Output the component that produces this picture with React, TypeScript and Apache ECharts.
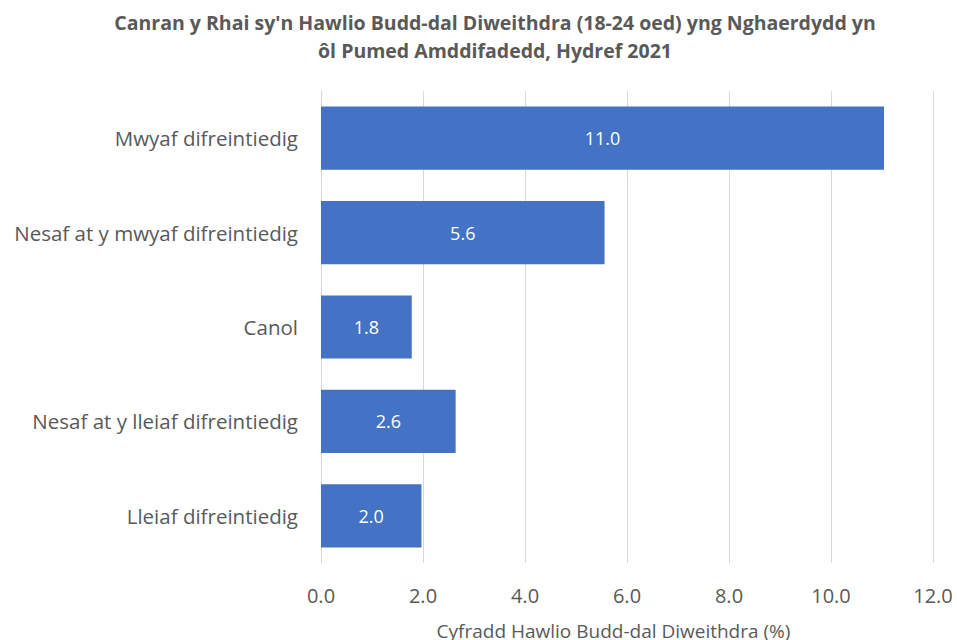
import React, { useEffect, useRef } from "react";
import * as echarts from "echarts";

const categories = [
  "Mwyaf difreintiedig",
  "Nesaf at y mwyaf difreintiedig",
  "Canol",
  "Nesaf at y lleiaf difreintiedig",
  "Lleiaf difreintiedig",
];
const values = [11.04, 5.56, 1.78, 2.64, 1.97];
const titleText =
  "Canran y Rhai sy'n Hawlio Budd-dal Diweithdra (18-24 oed) yng Nghaerdydd yn\nôl Pumed Amddifadedd, Hydref 2021";
const xAxisTitle = "Cyfradd Hawlio Budd-dal Diweithdra (%)";

const FONT = "'Open Sans', sans-serif";

export default function App() {
  const ref = useRef<HTMLDivElement>(null);
  useEffect(() => {
    if (!ref.current) return;
    const chart = echarts.init(ref.current, null, { renderer: "svg" });
    chart.setOption({
      animation: false,
      backgroundColor: "#ffffff",
      title: {
        text: titleText,
        left: 490,
        textAlign: "center",
        top: 3,
        textStyle: {
          fontFamily: FONT,
          fontWeight: "bold",
          fontSize: 19.5,
          color: "#595959",
          lineHeight: 28,
        },
      },
      grid: {
        left: 321,
        right: 24,
        top: 91,
        height: 472,
        containLabel: false,
        outerBoundsMode: "none",
      },
      xAxis: {
        type: "value",
        min: 0,
        max: 12,
        interval: 2,
        axisLine: { show: false },
        axisTick: { show: false },
        splitLine: { lineStyle: { color: "#d9d9d9", width: 1 } },
        axisLabel: {
          formatter: (v: number) => v.toFixed(1),
          fontFamily: FONT,
          fontSize: 20,
          color: "#595959",
          margin: 22,
        },
        name: xAxisTitle,
        nameLocation: "middle",
        nameGap: 58,
        nameTextStyle: {
          fontFamily: FONT,
          fontSize: 19,
          color: "#595959",
          padding: [0, 27, 0, 0],
        },
      },
      yAxis: {
        type: "category",
        data: categories,
        inverse: true,
        axisLine: { show: true, lineStyle: { color: "#d9d9d9" } },
        axisTick: { show: false },
        axisLabel: {
          fontFamily: FONT,
          fontSize: 20.5,
          color: "#595959",
          margin: 23,
        },
      },
      series: [
        {
          type: "bar",
          data: values,
          barCategoryGap: "33%",
          itemStyle: { color: "#4472C4" },
          label: {
            show: true,
            position: "inside",
            formatter: (p: any) => Number(p.value).toFixed(1),
            color: "#ffffff",
            fontFamily: FONT,
            fontSize: 18,
          },
        },
      ],
    });
    return () => chart.dispose();
  }, []);
  return (
    <div
      ref={ref}
      style={{ position: "absolute", left: 0, top: 0, width: 957, height: 640 }}
    />
  );
}
